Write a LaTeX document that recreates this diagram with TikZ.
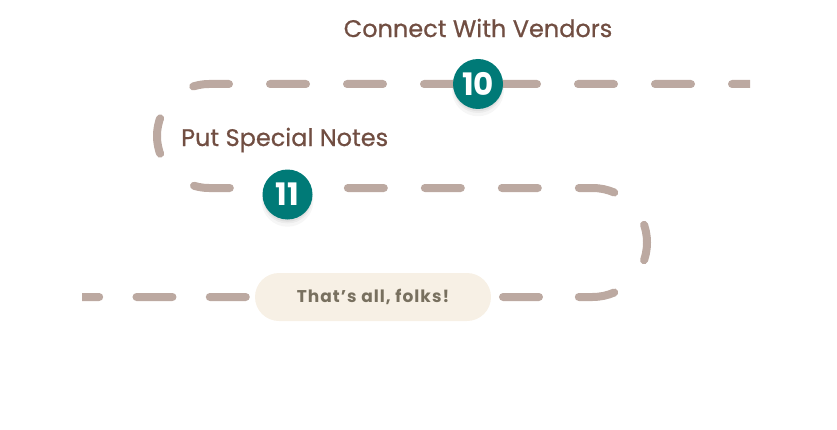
\documentclass[tikz,border=0pt]{standalone}
\usepackage{fontspec}
\setmainfont{Poppins}
\newfontfamily\labelfont{Poppins}[FakeBold=0.7]
\newfontfamily\pillfont{Poppins}[LetterSpace=6]
\usetikzlibrary{shadows}
\definecolor{trailgray}{HTML}{BCA9A1}
\definecolor{tealstep}{HTML}{007A77}
\definecolor{steptext}{HTML}{714E42}
\definecolor{pillfill}{HTML}{F7F0E5}
\definecolor{pilltext}{HTML}{78705F}
\tikzset{
  trail/.style={trailgray, line width=8pt, line cap=round},
  stepnum/.style={circle, fill=tealstep, minimum size=50pt, inner sep=0pt, text=white,
    font=\fontsize{31}{31}\selectfont\bfseries,
    drop shadow={opacity=0.07, shadow xshift=0pt, shadow yshift=-6pt, shadow scale=1.04},
    drop shadow={opacity=0.09, shadow xshift=0pt, shadow yshift=-4pt, shadow scale=1.0},
    drop shadow={opacity=0.12, shadow xshift=0pt, shadow yshift=-3pt, shadow scale=0.97}},
  steplabel/.style={text=steptext, font=\labelfont\fontsize{24}{24}\selectfont, inner sep=0pt},
  endpill/.style={rounded corners=24pt, fill=pillfill, minimum width=236pt, minimum height=48pt,
    text=pilltext, font=\pillfont\fontsize{17}{17}\selectfont\bfseries}
}
\begin{document}
\begin{tikzpicture}[x=1pt,y=1pt]
\useasboundingbox (0,0) rectangle (837,429);
\begin{scope}
\clip (82,0) rectangle (750,429);
% top row, round the left end
\draw[trail, dash pattern=on 18pt off 41pt on 36pt off 41pt on 36pt off 41pt on 36pt off 41pt
  on 36pt off 41pt on 36pt off 41pt on 36pt off 41pt on 36pt off 47.7pt on 18pt off 50pt]
  (750,345) -- (209,345) arc[start angle=90, end angle=180, radius=52pt];
% middle row
\draw[trail, dash pattern=on 18pt off 48.5pt on 36pt off 41pt on 36pt off 41pt on 36pt off 41pt
  on 36pt off 41pt on 36pt off 41pt on 36pt off 45.3pt on 18pt off 50pt]
  (157,293) arc[start angle=180, end angle=270, radius=52pt] -- (592.5,241)
  arc[start angle=90, end angle=0, radius=54.5pt];
% bottom row
\draw[trail, dash pattern=on 18pt off 45.3pt on 36pt off 39.8pt on 36pt off 37.3pt on 36pt off 37.3pt
  on 36pt off 37.3pt on 36pt off 37.3pt on 36pt off 37.3pt on 36pt off 37.3pt on 40pt off 10pt]
  (647,186.5) arc[start angle=0, end angle=-90, radius=54.5pt] -- (82,132);
\end{scope}

\node[steplabel] (vendors) at (478,401) {Connect With Vendors};
\node[steplabel, anchor=west] (notes) at (181,289) {Put Special Notes};

\node[stepnum] (s10) at (478,345) {10};
\node[stepnum] (s11) at (287.5,234.5) {11};

\node[endpill] (folks) at (373,132) {That’s all, folks!};
\end{tikzpicture}
\end{document}
